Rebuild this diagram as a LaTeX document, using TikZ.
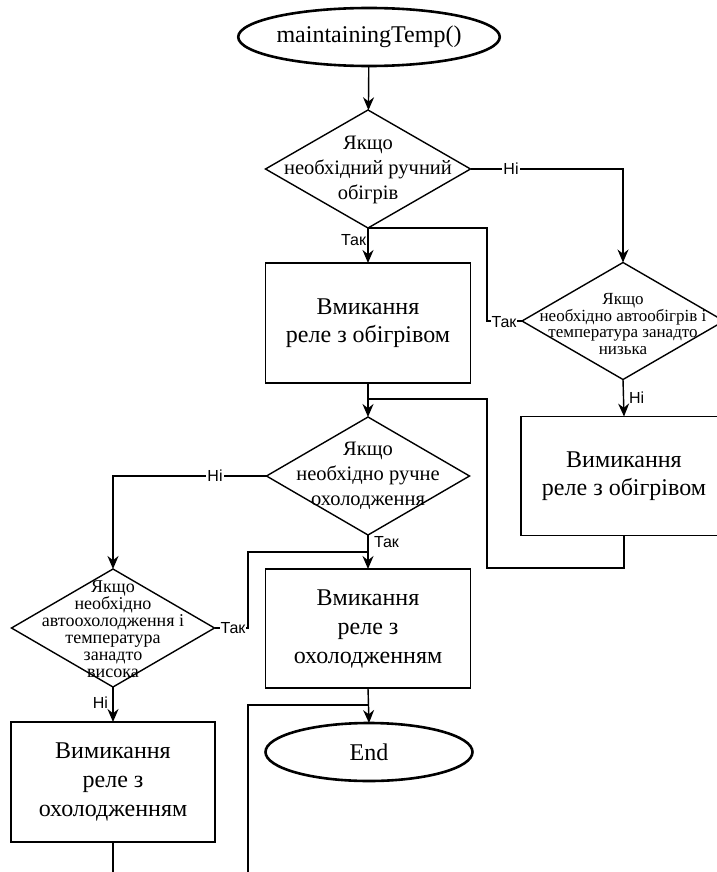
\documentclass[tikz,border=0pt]{standalone}
\usepackage{fontspec}
\setmainfont{Liberation Serif}
\newfontfamily\labelfont{Liberation Sans}
\usetikzlibrary{shapes.geometric,arrows.meta}

\begin{document}
\begin{tikzpicture}[x=1pt,y=-1pt,
  every node/.style={inner sep=0pt, outer sep=0pt},
  term/.style={ellipse, draw, line width=2.6pt, minimum width=207pt, minimum height=58pt,
    font=\fontsize{24}{29}\selectfont},
  procbox/.style={rectangle, draw, line width=1.4pt, minimum width=205pt, minimum height=120pt,
    align=center, font=\fontsize{24}{28.5}\selectfont},
  decision/.style={diamond, draw, line width=1.4pt},
  dtext/.style={align=center},
  flow/.style={line width=1.4pt},
  arr/.style={flow, -{Stealth[length=13pt,width=11pt]}},
  tag/.style={font=\labelfont\fontsize{16}{16}\selectfont, fill=white, inner sep=1pt},
  sidetag/.style={font=\labelfont\fontsize{16}{16}\selectfont, inner sep=1pt}
]
\useasboundingbox (0,0) rectangle (716,872);

% start / end terminals
\node[term] (start) at (369,37) {maintainingTemp()};
\node[term] (finish) at (369,752) {End};

% manual heating decision
\node[decision, minimum width=205pt, minimum height=118pt] (d1) at (368,169) {};
\node[dtext, font=\fontsize{20.5}{25}\selectfont] (d1t) at (368,170)
  {Якщо\\необхідний ручний\\обігрів};

% heater on
\node[procbox] (b1) at (368,323) {Вмикання\\реле з обігрівом};

% automatic heating decision
\node[decision, minimum width=202pt, minimum height=117pt] (d2) at (623,321) {};
\node[dtext, font=\fontsize{17}{16.5}\selectfont] (d2t) at (623,324)
  {Якщо\\необхідно автообігрів і\\температура занадто\\низька};

% heater off
\node[procbox, minimum width=206pt, minimum height=119pt] (b2) at (624,476) {Вимикання\\реле з обігрівом};

% manual cooling decision
\node[decision, minimum width=203pt, minimum height=118pt] (d3) at (368,476) {};
\node[dtext, font=\fontsize{20.5}{25}\selectfont] (d3t) at (368,476)
  {Якщо\\необхідно ручне\\охолодження};

% cooler on
\node[procbox, minimum height=119pt, font=\fontsize{24}{29}\selectfont] (b3) at (368,628.5)
  {Вмикання\\реле з\\охолодженням};

% automatic cooling decision
\node[decision, minimum width=203pt, minimum height=118pt] (d4) at (113,628) {};
\node[dtext, font=\fontsize{18}{17}\selectfont] (d4t) at (113,629)
  {Якщо\\необхідно\\автоохолодження і\\температура\\занадто\\висока};

% cooler off
\node[procbox, minimum width=204pt, font=\fontsize{24}{29}\selectfont] (b4) at (113,782)
  {Вимикання\\реле з\\охолодженням};

% helper points of the connectors
\coordinate (j1) at (368,228);
\coordinate (j2) at (368,399);
\coordinate (j3) at (368,552);
\coordinate (j4) at (368,705);
\coordinate (off1) at (113,872);
\coordinate (off2) at (248,872);

% connectors
\draw[arr] (start) -- (d1);
\draw[arr] (d1.south) -- (b1.north);
\node[sidetag, anchor=east] (t1) at (367,240) {Так};
\draw[arr] (d1.east) -- (d2.north |- d1.east) -- (d2.north);
\node[tag] (n1) at (511,169) {Ні};

\draw[flow] (d2.west) -- (487,321) -- (487,228) -- (j1);
\node[tag] (t2) at (504,322) {Так};

\draw[arr] (d2.south) -- (b2.north);
\node[sidetag, anchor=west] (n2) at (628,398) {Ні};

\draw[arr] (b1.south) -- (d3.north);
\draw[flow] (b2.south) -- (624,568) -- (487,568) -- (487,399) -- (j2);

\draw[arr] (d3.west) -- (d4.north |- d3.west) -- (d4.north);
\node[tag] (n3) at (215,476) {Ні};

\draw[arr] (d3.south) -- (b3.north);
\node[sidetag, anchor=west] (t3) at (373,542) {Так};

\draw[flow] (d4.east) -- (248,628) -- (248,552) -- (j3);
\node[tag] (t4) at (233,628) {Так};

\draw[arr] (d4.south) -- (b4.north);
\node[sidetag, anchor=east] (n4) at (109,703) {Ні};

\draw[flow] (b4.south) -- (off1);
\draw[arr] (b3.south) -- (finish.north);
\draw[flow] (off2) -- (248,705) -- (j4);
\end{tikzpicture}
\end{document}
